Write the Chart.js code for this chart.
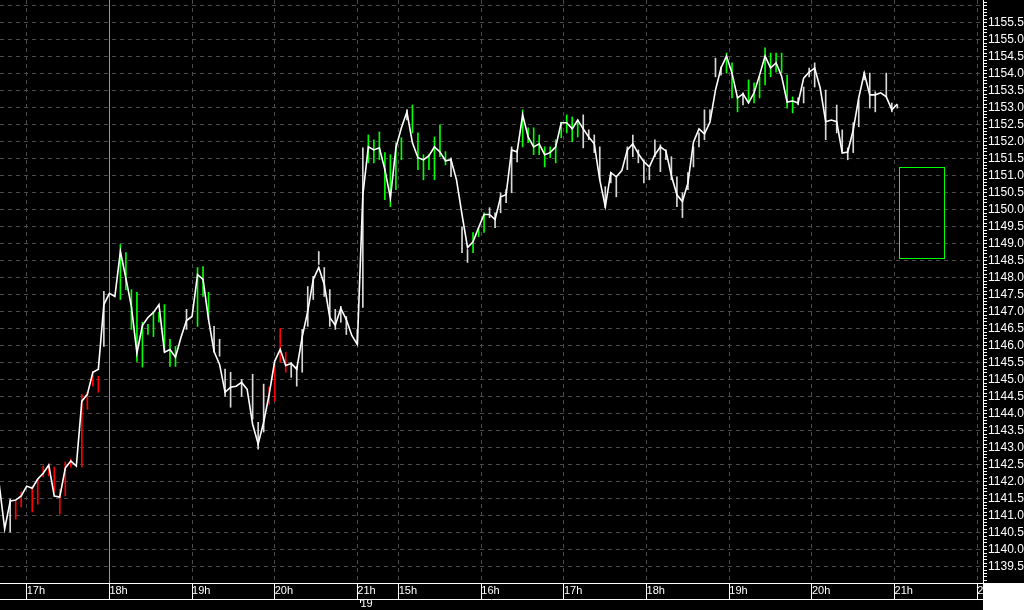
<!DOCTYPE html>
<html>
<head>
<meta charset="utf-8">
<title>Intraday chart</title>
<script src="https://cdn.jsdelivr.net/npm/chart.js@4.4.1/dist/chart.umd.min.js"></script>
<style>
  html, body { margin: 0; padding: 0; background: #000; }
  #chart { display: block; }
</style>
</head>
<body>
<canvas id="chart" width="1024" height="610"></canvas>
<script>
// time is counted in minutes from 17:00 on the first day, one bar every 4 minutes
const barMinutes = 4;
const firstBarMinute = -20;

// close of each bar (the white line)
const closes = [
  1141.93, 1140.61, 1141.43, 1141.46, 1141.58, 1141.87, 1141.81, 1142.08, 1142.25, 1142.49,
  1141.58, 1141.55, 1142.40, 1142.61, 1142.46, 1144.37, 1144.57, 1145.22, 1145.31, 1147.21,
  1147.54, 1147.45, 1148.77, 1147.98, 1147.15, 1145.78, 1146.60, 1146.83, 1146.98, 1147.21,
  1145.81, 1145.89, 1145.66, 1146.25, 1146.74, 1146.86, 1148.09, 1147.95, 1146.77, 1145.83,
  1145.45, 1144.63, 1144.78, 1144.81, 1144.92, 1144.72, 1143.69, 1143.11, 1143.75, 1144.57,
  1145.54, 1145.89, 1145.42, 1145.48, 1145.31, 1146.27, 1147.01, 1147.95, 1148.30, 1147.80,
  1146.83, 1146.60, 1147.10, 1146.77, 1146.30, 1146.04, 1150.44, 1151.85, 1151.76, 1151.82,
  1151.18, 1150.35, 1151.82, 1152.41, 1152.88, 1151.97, 1151.53, 1151.47, 1151.59, 1151.85,
  1151.70, 1151.44, 1151.47, 1150.88, 1149.86, 1148.89, 1149.06, 1149.47, 1149.86, 1149.86,
  1149.71, 1150.38, 1150.44, 1151.76, 1151.70, 1152.79, 1152.14, 1151.85, 1151.94, 1151.62,
  1151.68, 1151.85, 1152.56, 1152.56, 1152.38, 1152.64, 1152.38, 1152.14, 1151.94, 1150.88,
  1150.09, 1151.09, 1150.97, 1151.15, 1151.76, 1151.94, 1151.65, 1151.41, 1151.26, 1151.62,
  1151.85, 1151.73, 1151.00, 1150.44, 1150.24, 1150.79, 1151.99, 1152.38, 1152.23, 1152.58,
  1153.52, 1154.17, 1154.52, 1154.02, 1153.29, 1153.41, 1153.14, 1153.44, 1153.96, 1154.52,
  1154.17, 1154.32, 1153.93, 1153.17, 1153.20, 1153.14, 1153.87, 1154.05, 1154.17, 1153.58,
  1152.59, 1152.64, 1152.59, 1151.67, 1151.70, 1152.35, 1153.29, 1154.02, 1153.38, 1153.38,
  1153.44, 1153.32, 1152.94, 1153.11
];

// high / low of each bar (null = range hidden under the line)
const barHigh = [
  1142.14, null, 1141.49, 1141.43, 1141.70, null, 1141.87, 1142.08, 1142.46, 1142.52,
  1142.43, 1141.78, 1142.58, 1142.67, null, 1144.57, 1144.63, 1145.25, 1145.10, 1147.60,
  null, null, 1148.98, 1148.74, 1147.65, 1147.57, 1146.69, 1146.63, 1146.98, 1146.98,
  1147.21, 1146.19, 1145.98, null, 1147.07, null, 1148.30, 1148.33, 1147.57, 1146.57,
  1146.19, 1145.31, 1145.22, null, 1145.01, null, 1145.16, 1143.75, 1144.87, 1144.78,
  1145.51, 1146.51, 1145.81, 1145.51, 1145.39, 1146.48, 1147.74, 1148.04, 1148.77, 1148.30,
  1147.65, 1147.07, 1147.16, 1146.86, null, 1146.48, 1151.82, 1152.20, 1152.06, 1152.29,
  1151.68, 1151.62, 1151.97, 1152.12, 1152.94, 1153.08, 1152.26, 1151.62, 1151.62, 1152.14,
  1152.50, 1151.71, 1151.53, null, 1149.50, 1148.83, 1149.33, 1149.47, 1149.91, 1150.06,
  1149.91, 1150.50, 1150.59, 1151.85, 1151.76, 1152.94, 1152.41, 1152.41, 1152.20, 1151.85,
  1151.85, 1152.06, 1152.58, 1152.79, 1152.73, 1152.64, 1152.79, 1152.35, 1152.20, 1151.85,
  1150.68, 1151.09, 1150.97, null, 1151.85, 1152.20, 1151.76, 1151.47, 1151.23, 1152.06,
  1151.91, 1151.76, 1151.56, 1150.97, 1150.50, 1151.09, 1151.85, 1152.26, 1152.94, 1152.94,
  1154.46, 1154.20, 1154.61, 1154.32, 1153.32, 1153.44, 1153.82, 1153.73, 1153.91, 1154.76,
  1154.61, 1154.61, 1154.61, 1153.96, 1153.32, 1153.29, 1153.61, 1154.17, 1154.32, null,
  1153.52, null, 1153.08, 1152.35, 1151.82, 1152.56, 1153.23, 1154.05, 1154.02, 1153.47,
  null, 1154.02, 1153.14, 1153.08
];
const barLow = [
  1141.29, null, 1140.52, 1140.90, 1141.26, null, 1141.11, 1141.34, 1142.14, 1142.17,
  1141.70, 1141.05, 1141.58, 1142.43, null, 1142.43, 1144.13, 1144.81, 1144.63, 1145.98,
  null, null, 1147.36, 1147.65, 1146.48, 1145.54, 1145.37, 1146.33, 1146.27, 1146.69,
  1145.83, 1145.39, 1145.39, null, 1146.48, null, 1146.57, 1147.45, 1146.77, 1145.81,
  1145.69, 1144.51, 1144.19, null, 1144.51, null, 1143.84, 1142.96, 1143.46, 1144.28,
  1144.37, 1145.51, 1145.22, 1145.07, 1144.81, 1145.22, 1146.57, 1147.36, 1148.39, 1147.45,
  1146.57, 1146.48, 1146.69, 1146.33, null, 1146.04, 1147.13, 1151.38, 1151.38, 1151.47,
  1150.30, 1150.09, 1150.59, 1151.47, 1152.64, 1152.26, 1151.18, 1150.88, 1151.18, 1150.88,
  1151.56, 1151.32, 1150.97, null, 1148.74, 1148.45, 1148.74, 1149.21, 1149.33, 1149.77,
  1149.47, 1149.91, 1150.21, 1150.50, 1151.41, 1151.85, 1151.97, 1151.62, 1151.62, 1151.26,
  1151.53, 1151.38, 1152.12, 1152.26, 1152.00, 1152.14, 1151.82, 1152.06, 1151.68, 1150.88,
  1150.06, 1150.79, 1150.38, null, 1151.18, 1151.56, 1151.38, 1150.79, 1150.88, 1151.56,
  1151.12, 1151.47, 1150.88, 1150.09, 1149.77, 1150.59, 1151.26, 1151.85, 1152.06, 1152.64,
  1153.91, 1153.96, 1154.02, 1153.29, 1152.88, 1153.08, 1153.14, 1153.14, 1153.29, 1153.67,
  1153.91, 1154.05, 1154.02, 1152.99, 1152.85, 1153.08, 1153.14, 1153.91, 1153.61, null,
  1152.06, null, 1152.26, 1151.71, 1151.47, 1151.68, 1152.44, 1153.82, 1152.99, 1152.88,
  null, 1153.32, 1152.88, 1152.99
];

// bar index runs flagged by the indicator (green = up, red = down)
const upRuns = [[22, 32], [36, 38], [67, 73], [75, 81], [86, 88], [95, 105], [132, 134], [136, 144]];
const downRuns = [[3, 18], [49, 52]];

// hour ticks of the time axis (minutes from 17:00 day one)
const hourTicks = [0, 60, 120, 180, 240, 270, 330, 390, 450, 510, 570, 630, 690];
const hourLabels = ['17h', '18h', '19h', '20h', '21h', '15h', '16h', '17h', '18h', '19h', '20h', '21h', '22h'];
const dayTick = 240;
const dayLabel = '19';

const sessionMarker = 60;              // vertical line at 18h
const boxMinutes = [633.5, 666];       // projection box
const boxPrices = [1148.57, 1151.25];

const timeMin = -19.4, timeMax = 694.2;
const priceMin = 1139.02, priceMax = 1156.17;

const gridColour = '#4a4a4a';
const upColour = '#00ff00';
const downColour = '#ff0000';
const flatColour = '#d8d8d8';

function barTime(i) {
    return firstBarMinute + i * barMinutes;
}

function signalOf(i) {
    if (upRuns.some(r => i >= r[0] && i <= r[1])) return 1;
    if (downRuns.some(r => i >= r[0] && i <= r[1])) return -1;
    return 0;
}

function isHalf(v) {
    return Math.abs(v * 2 - Math.round(v * 2)) < 1e-6;
}

var linePoints = closes.map((c, i) => ({ x: barTime(i), y: c }));
var rangePoints = [];
var rangeColours = [];
barHigh.forEach((h, i) => {
    if (h === null) return;
    rangePoints.push({ x: barTime(i), y: [barLow[i], h] });
    var s = signalOf(i);
    rangeColours.push(s > 0 ? upColour : (s < 0 ? downColour : flatColour));
});

// background, marker line, box and the bottom band
const decorations = {
    id: 'decorations',
    beforeDraw(chart) {
        const c = chart.ctx;
        c.save();
        c.fillStyle = '#000';
        c.fillRect(0, 0, chart.width, chart.height);
        c.restore();
    },
    beforeDatasetsDraw(chart) {
        const c = chart.ctx, a = chart.chartArea;
        const x = Math.round(chart.scales.x.getPixelForValue(sessionMarker)) + 0.5;
        c.save();
        c.strokeStyle = upColour;
        c.lineWidth = 1;
        c.beginPath();
        c.moveTo(x, a.top);
        c.lineTo(x, a.bottom);
        c.stroke();
        c.restore();
    },
    afterDatasetsDraw(chart) {
        const c = chart.ctx, sx = chart.scales.x, sy = chart.scales.y;
        const x1 = Math.round(sx.getPixelForValue(boxMinutes[0])) + 0.5;
        const x2 = Math.round(sx.getPixelForValue(boxMinutes[1])) + 0.5;
        const y1 = Math.round(sy.getPixelForValue(boxPrices[1])) + 0.5;
        const y2 = Math.round(sy.getPixelForValue(boxPrices[0])) + 0.5;
        c.save();
        c.strokeStyle = upColour;
        c.lineWidth = 1;
        c.strokeRect(x1, y1, x2 - x1, y2 - y1);
        c.restore();
    },
    afterDraw(chart) {
        const c = chart.ctx, a = chart.chartArea;
        c.save();
        c.fillStyle = '#fff';
        c.fillRect(a.right, a.bottom, chart.width - a.right, chart.height - a.bottom);
        c.strokeStyle = '#fff';
        c.lineWidth = 1;
        c.beginPath();
        c.moveTo(a.left, a.bottom + 16.5);
        c.lineTo(a.right, a.bottom + 16.5);
        // small day mark under the day change
        const dx = Math.round(chart.scales.x.getPixelForValue(dayTick)) + 3.5;
        c.moveTo(dx, a.bottom + 16);
        c.lineTo(dx, a.bottom + 20);
        c.stroke();
        c.restore();
    }
};

new Chart(document.getElementById('chart'), {
    data: {
        datasets: [{
            type: 'line',
            data: linePoints,
            borderColor: '#ffffff',
            borderWidth: 1.6,
            pointRadius: 0,
            tension: 0,
            order: 0
        }, {
            type: 'bar',
            data: rangePoints,
            backgroundColor: rangeColours,
            barThickness: 1,
            grouped: false,
            order: 1
        }]
    },
    options: {
        responsive: false,
        devicePixelRatio: 1,
        animation: false,
        layout: { padding: 0 },
        plugins: { legend: { display: false }, tooltip: { enabled: false } },
        scales: {
            x: {
                type: 'linear',
                min: timeMin,
                max: timeMax,
                offset: false,
                afterBuildTicks: s => { s.ticks = hourTicks.map(v => ({ value: v })); },
                afterFit: s => { s.height = 27; s.paddingLeft = 0; s.paddingRight = 0; },
                border: { color: '#ffffff', width: 1, dash: [4, 4] },
                grid: {
                    offset: false,
                    color: gridColour,
                    tickColor: '#ffffff',
                    tickLength: 16,
                    tickBorderDash: []
                },
                ticks: {
                    autoSkip: false,
                    maxRotation: 0,
                    align: 'start',
                    padding: -15,
                    color: '#ffffff',
                    font: { family: 'Liberation Sans', size: 11, lineHeight: 1.2 },
                    callback: (v) => {
                        var i = hourTicks.indexOf(v);
                        if (i < 0) return '';
                        return v === dayTick ? [hourLabels[i], ' ' + dayLabel] : hourLabels[i];
                    }
                }
            },
            y: {
                type: 'linear',
                position: 'right',
                min: priceMin,
                max: priceMax,
                afterBuildTicks: s => {
                    var t = [];
                    for (var k = Math.ceil(priceMin * 10); k <= Math.floor(priceMax * 10); k++) t.push({ value: k / 10 });
                    s.ticks = t;
                },
                afterFit: s => { s.width = 41; s.paddingTop = 0; s.paddingBottom = 0; },
                border: { color: '#ffffff', width: 1, dash: [4, 4] },
                grid: {
                    color: ctx => (isHalf(ctx.tick.value) ? gridColour : 'rgba(0,0,0,0)'),
                    tickColor: '#ffffff',
                    tickLength: 4,
                    tickBorderDash: []
                },
                ticks: {
                    autoSkip: false,
                    padding: 1,
                    color: '#ffffff',
                    font: { family: 'Liberation Sans', size: 12 },
                    // the top edge has no room for a label
                    callback: v => (isHalf(v) && v < priceMax - 0.3 ? v.toFixed(1) : '')
                }
            }
        }
    },
    plugins: [decorations]
});
</script>
</body>
</html>
